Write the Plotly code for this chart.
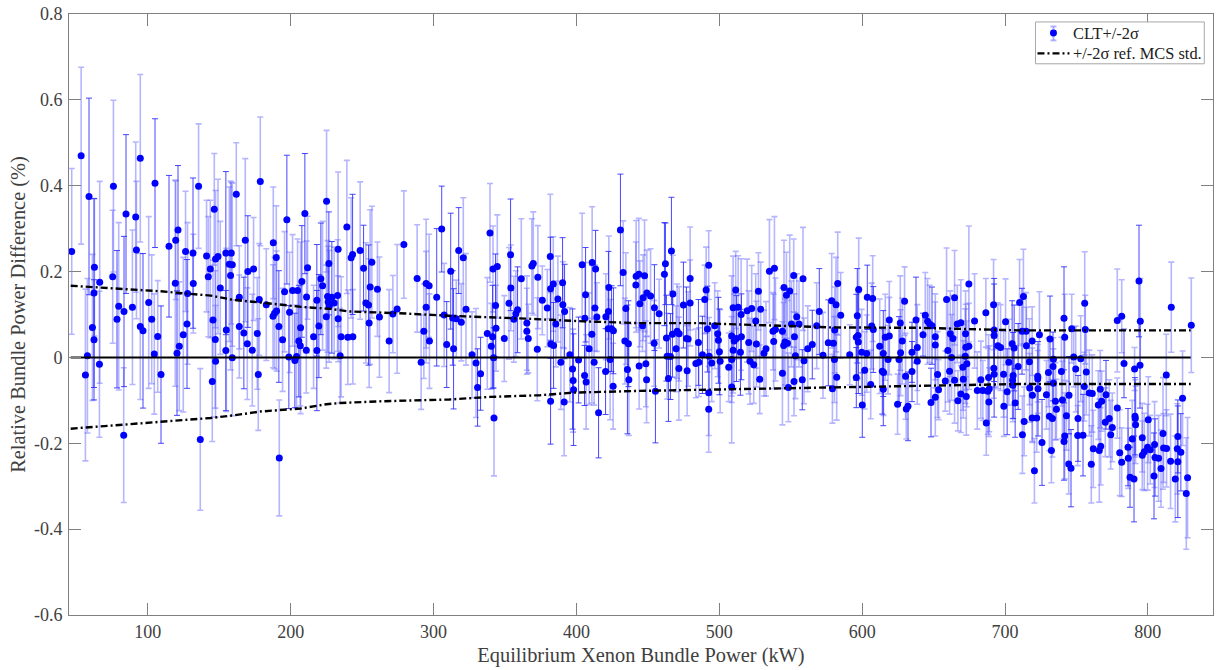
import plotly.graph_objects as go

x_power = [
46.7,53.3,58.8,56.3,57.7,61.2,62.3,62.3,62.6,66.1,
66.3,75.4,75.9,78.4,79.6,83.3,83.1,84.7,89.2,91.5,
92,94.7,94.7,96.6,100.6,102.7,105,104.5,106.9,109.2,
114.8,119.2,119.5,121.1,120.4,122,124.8,127.4,126.4,127.8,
131.6,131.8,135.5,136.7,141.1,143.7,142.3,146.5,145.6,147.2,
147.4,145.1,147.4,149.1,150.7,154.6,158.4,157,159.1,157.9,
154.9,154.6,159.1,161.9,164,164,167.2,168.2,170,174,
169.6,173.1,176.6,178,177.3,178.7,
182.9,187.8,187.6,188.7,190.1,189.9,191.7,192,194.3,195.7,
197.3,199.2,198.7,201.3,202.9,204.1,204.8,205.7,206.7,206.9,
207.8,209.9,211.1,211.8,210.9,216,218.3,218.3,219.7,221.1,
222.3,225.1,226.7,225.8,226.2,228.8,226.9,230.4,224.9,232.8,
233.2,233.2,235.3,234.6,239.3,240,243.5,242.3,243.3,248.6,
251,252.6,254.5,254.9,255.6,256.8,260.7,262.1,268.9,271.5,
274.5,279.2,288.5,291.3,293.2,294.8,296.9,294.8,297.1,302.2,
305.7,307.4,309.2,
312,313.4,315.9,314,317.6,319.4,320.8,322.7,326.9,329.7,
332.9,330.8,337.6,339.5,341.3,340.4,342,342.3,341.6,344.6,
343.4,343.7,349.5,352.8,353.9,354.1,356.2,357.6,358.8,361.4,
365.3,365.3,366.3,368.8,369.8,372.6,373,376.1,379.6,381.7,
381.9,382.1,381.9,383.8,384,385.6,387,389.1,390.3,390.5,
391.7,391.4,395.4,397.3,397.7,398,401.5,404,406.4,405.9,
405.7,406.8,408.9,410.8,411,413.4,412.9,414.3,412.4,415.5,
420.6,422.4,422.7,422.2,424.5,425.9,423.6,420.4,425.7,430.8,
432.7,434.6,433.9,436.4,435.7,436.7,441.8,443.7,441.6,444.4,
443.9,
447.7,446.7,449.3,451.9,446.3,454.6,457.9,454.4,448.6,449.1,
455.3,461.6,462.3,463,463.5,465.8,464.4,466.5,467.5,467.2,
469.8,470.5,471.9,471.7,474.9,477,478.2,477.5,479.6,479.6,
483.6,485.7,485.4,488.2,489.8,490.8,492.6,491.7,492.9,492.6,
492.6,494.7,496.8,498.9,499.4,500.1,500.6,506.6,508.7,508.7,
509.7,510.4,509.7,513.2,511.5,508.7,512,515.5,515.3,514.8,
519.5,522.7,520.6,521.5,524.1,525.5,526,527.4,529,528.3,
531.3,532.7,535.1,538.6,537.6,539.3,538.1,544.2,545.3,547,
549.3,552.1,558.6,544.2,545.1,547.7,546,548.4,554.2,550.5,
555.8,552.6,553.3,552.3,559.3,558.1,561.9,565.1,568.2,570,
572.6,576.3,
578.7,581.7,582.9,585,580.8,579.9,580.6,582.2,579.2,591.3,
595.9,597.6,596.6,595.9,597.1,597.3,599.7,603.2,601.8,600.1,
603.6,607.4,606.7,607.8,606,612.3,614.8,614.1,615,614.8,
616.2,619,619,618.1,624.8,625.8,626.7,628.1,626.9,629.7,
630.4,630.9,632.1,634.9,634.9,637.7,638.6,638.6,642.6,644.2,
645.8,647.2,648.9,648.2,651.2,651.2,651.2,652.8,653.5,658.2,
659.1,660,662.6,661.2,661.7,663.5,664.7,664.7,666.6,669.1,
669.1,667,670.8,670.5,672.9,672.4,672.6,672.2,673.3,674.7,
674.7,678.7,680.6,684.5,683.1,688.5,688,688.7,689,686.9,
686.6,692,692.4,692.4,692.2,692.4,695,696.9,699,699.2,
700.4,702.7,701.5,705,706.4,705.7,705.3,705.5,707.1,709.2,
710.2,
712.9,711.9,714.8,715,719,717.1,717.3,719.2,713.4,712.2,
719,722.2,720.6,724.1,722.9,722.9,723.1,725.9,730.4,729,
731.5,733.9,733.6,733.9,731.1,733.2,732.5,735.3,736,739.5,
740.2,741.3,741.8,743,741.8,741.3,744.8,744.6,746.2,746.7,
748.1,749.5,751.1,750.9,754.6,753,755.8,756.2,756.9,755.5,
759,761.1,761.8,760.4,766.7,767.7,765.3,766,767,770.7,
770.2,773,775.1,774,778.6,781.7,783.3,778.6,780.3,781.7,
786.1,786.3,787.5,790.3,789.1,790.7,794.5,793.8,794.7,791,
791.2,791.4,796.1,796.1,797.5,800.3,799.8,801.7,804.7,805,
807.5,804.3,809.2,810.6,811,813.1,812.9,816.4,815.9,819.2,
820.6,821,821,823.1,824.3,827.8,826.9,830.4,
]

y_diff = [
.247,.470,.375,-.041,.004,.07,.041,.150,.21,-.016,
.175,.188,.399,.089,.119,.107,-.181,.334,.117,.327,
.250,.464,.072,.062,.128,.089,.406,.008,.049,-.04,
.259,.173,.273,.297,.01,.026,.053,.078,.247,.149,
.243,.172,.399,-.191,.236,.206,.188,.345,.087,.042,
-.009,-.056,.229,.235,.162,.243,.243,.217,.216,.191,
.064,.016,-.001,.380,.140,.072,.057,.273,.2,.206,
.032,.017,.056,.135,-.04,.41,
.123,.267,.096,.103,.108,.233,.072,-.234,.041,.153,
.321,.105,.001,.156,-.007,.002,.156,.038,.027,.069,
.177,.335,.141,.209,.017,.048,.133,.016,.073,.183,
.167,.364,.219,.142,.129,.14,.119,.127,.095,.144,
.252,.09,.048,.004,.304,.047,.048,.232,.24,.249,
.208,.127,.122,.08,.164,.222,.159,.094,.038,.101,
.113,.263,.184,-.011,.061,.172,.167,.117,.038,.14,
.299,.099,.03,
.201,.092,.09,.02,.249,.082,.232,.112,.006,-.013,
-.038,-.07,.056,.29,.048,.026,-.001,-.141,.206,.212,
.121,.068,.044,.126,.239,.162,.089,.102,.111,.183,
.08,.061,.044,.213,.219,.019,.187,.133,.115,.235,
.16,.031,-.102,.171,.028,.078,.136,-.011,.174,.123,
.107,-.104,.006,-.027,-.054,-.075,-.006,.216,.146,.091,
-.042,-.057,.02,.054,.221,.206,.115,.094,-.011,-.129,
.095,.107,.163,.067,.067,.062,-.005,-.033,-.067,.297,
.198,.114,.038,.032,-.028,-.052,.189,.194,.169,.125,
-.02,
.19,.139,.15,.143,.074,.116,.102,.033,-.015,-.052,
-.079,.194,.218,.045,.003,.002,-.049,.248,.148,.054,
.02,.061,.055,-.026,.122,.044,.043,-.031,.184,.127,
-.014,-.011,.035,.006,.135,.157,.215,.066,.003,-.082,
-.121,-.013,.074,.055,.04,.013,-.009,-.023,-.005,.05,
.017,.038,.116,.117,.157,-.069,.044,.048,.1,.012,
.109,.114,.035,-.009,-.017,.085,.031,.154,.112,-.051,
.01,.02,.201,.208,.061,.065,.037,.061,.163,.145,
.155,.191,.183,-.037,.028,.033,.036,-.07,.095,.078,
.078,.048,.004,-.056,-.008,-.052,.02,.03,.074,.107,
.005,.034,
.132,.123,.172,.098,.064,.033,-.005,-.046,-.073,.006,
-.047,.158,.097,.047,.051,.036,.012,.009,-.03,-.111,
.14,.137,.073,.065,-.063,.026,.009,-.032,-.035,-.074,
.047,.05,.087,-.005,-.109,-.005,.08,.038,.011,.131,
-.044,-.12,-.114,.012,-.033,.087,.023,-.009,.053,.098,
.084,.078,.074,-.105,-.093,.048,.029,-.04,-.075,-.055,
.135,.016,0,-.032,.055,.044,.139,-.053,.078,.081,
-.085,-.101,-.051,-.023,-.091,.055,.024,.003,-.015,.026,
.171,.085,-.077,-.077,-.052,-.047,-.079,-.104,-.073,-.153,
.104,.123,.064,.051,-.025,-.039,.027,.023,-.039,-.114,
.083,-.011,-.08,.032,.022,-.042,-.053,-.065,-.106,-.021,
.128,
.142,.061,.061,.027,.038,-.01,-.071,-.088,-.149,-.18,
-.141,-.141,-.264,.053,-.044,-.05,-.073,-.198,-.035,-.087,
.043,-.004,-.021,-.06,-.137,-.142,-.217,-.102,-.121,-.033,
-.099,.091,.047,-.136,-.183,-.196,-.088,-.248,-.258,.067,
.001,-.027,-.142,-.182,-.181,-.003,.126,.065,-.034,-.068,
-.083,-.084,-.213,-.249,-.074,-.102,-.111,-.217,-.207,-.087,
-.151,-.142,-.163,-.18,.086,.096,-.014,-.118,-.222,-.244,
-.209,-.235,-.279,-.283,-.19,-.027,-.018,.178,.084,-.137,
-.142,-.157,-.187,-.228,-.22,-.145,-.209,-.215,-.203,-.233,
-.235,-.276,-.259,-.177,-.211,-.212,-.041,.117,-.242,-.283,
-.213,-.184,-.243,-.221,-.095,-.28,-.317,.075,
]

err_2sigma = [
.193,.206,.229,.2,.18,.17,.14,.22,.16,.17,
.235,.155,.2,.16,.195,.175,.157,.185,.18,.175,
.16,.195,.17,.18,.2,.15,.15,.14,.13,.16,
.165,.24,.138,.15,.145,.15,.18,.15,.14,.165,
.175,.115,.145,.165,.13,.16,.14,.13,.14,.16,
.13,.14,.16,.18,.155,.19,.165,.18,.19,.22,
.19,.14,.135,.12,.12,.12,.13,.19,.13,.12,
.13,.13,.13,.13,.13,.15,
.13,.13,.12,.13,.14,.12,.13,.135,.12,.14,
.15,.14,.12,.13,.11,.12,.12,.13,.14,.2,
.13,.14,.13,.12,.1,.12,.13,.14,.12,.13,
.15,.165,.12,.13,.13,.13,.13,.13,.12,.13,
.18,.1,.14,.11,.155,.11,.11,.14,.14,.16,
.1,.14,.14,.15,.18,.13,.11,.14,.12,.09,
.15,.125,.125,.11,.11,.15,.12,.13,.11,.16,
.1,.12,.1,
.135,.11,.09,.14,.1,.09,.14,.13,.1,.127,
.085,.09,.13,.115,.12,.1,.07,.135,.1,.12,
.12,.1,.1,.13,.13,.1,.1,.1,.1,.14,
.11,.1,.08,.11,.12,.12,.12,.08,.09,.145,
.12,.12,.1,.11,.1,.1,.1,.11,.105,.1,
.11,.125,.11,.14,.12,.13,.1,.12,.11,.13,
.07,.11,.13,.16,.13,.09,.1,.08,.1,.105,
.1,.14,.12,.1,.1,.1,.14,.1,.1,.13,
.12,.13,.1,.1,.15,.13,.13,.13,.1,.1,
.1,
.13,.1,.1,.11,.06,.1,.08,.1,.1,.1,
.12,.12,.095,.1,.1,.1,.1,.125,.09,.1,
.1,.11,.11,.12,.1,.12,.11,.105,.12,.1,
.08,.08,.1,.09,.08,.1,.08,.1,.09,.1,
.1,.09,.1,.1,.1,.1,.12,.08,.1,.14,
.1,.11,.12,.12,.09,.13,.1,.1,.13,.1,
.12,.1,.12,.1,.09,.11,.1,.09,.11,.08,
.1,.11,.12,.12,.09,.12,.11,.1,.11,.1,
.13,.085,.12,.12,.1,.1,.1,.08,.1,.1,
.1,.1,.1,.08,.1,.07,.1,.08,.1,.1,
.1,.1,
.11,.11,.12,.1,.1,.1,.1,.1,.08,.07,
.07,.12,.11,.1,.1,.12,.1,.09,.09,.075,
.075,.1,.1,.1,.08,.11,.1,.1,.1,.085,
.1,.09,.09,.08,.07,.1,.11,.1,.1,.08,
.1,.07,.08,.07,.07,.1,.1,.1,.05,.1,
.1,.09,.09,.08,.09,.1,.1,.1,.07,.07,
.12,.12,.1,.1,.1,.1,.11,.1,.09,.1,
.09,.07,.09,.1,.09,.1,.1,.11,.1,.1,
.135,.11,.09,.07,.09,.1,.1,.08,.1,.075,
.08,.105,.12,.12,.07,.1,.1,.1,.1,.07,
.1,.1,.1,.1,.1,.1,.09,.085,.08,.1,
.1,
.11,.1,.09,.09,.08,.1,.08,.11,.08,.09,
.055,.08,.075,.1,.06,.08,.11,.1,.08,.08,
.1,.05,.08,.08,.08,.09,.075,.09,.07,.08,
.09,.12,.1,.08,.1,.09,.09,.07,.09,.08,
.07,.1,.1,.07,.095,.1,.12,.08,.1,.08,
.1,.09,.09,.09,.09,.07,.08,.12,.09,.08,
.08,.09,.08,.08,.12,.085,.08,.07,.1,.08,
.09,.07,.07,.1,.09,.05,.1,.13,.1,.09,
.09,.09,.08,.08,.09,.1,.1,.08,.1,.09,
.1,.1,.09,.13,.08,.09,.095,.105,.11,.1,
.105,.085,.13,.09,.11,.14,.13,.11,
]

upper_x = [46, 62, 109, 144, 160, 178.7, 206.7, 227.6, 241, 276, 311, 367, 405, 444, 484, 531, 577, 640, 710, 830]
upper_y = [.167, .164, .154, .144, .134, .128, .118, .113, .107, .103, .097, .09, .084, .08, .08, .075, .07, .069, .063, .063]
lower_x = [46, 62, 83, 109, 144, 160, 178.7, 207, 225, 235, 265, 311, 339.5, 374.5, 397.7, 444, 493, 531, 577, 640, 710, 830]
lower_y = [-.166, -.162, -.158, -.15, -.141, -.135, -.126, -.119, -.109, -.106, -.102, -.098, -.092, -.088, -.082, -.078, -.075, -.072, -.069, -.065, -.062, -.062]
zero_x = [46, 830]
zero_y = [0, 0]

x_ticks = [100, 200, 300, 400, 500, 600, 700, 800]
y_ticks = [-0.6, -0.4, -0.2, 0, 0.2, 0.4, 0.6, 0.8]
y_tick_labels = ["-0.6", "-0.4", "-0.2", "0", "0.2", "0.4", "0.6", "0.8"]

FONT = "Liberation Serif"
TEXT = "#404040"
BOX = "#808080"
XR = [44.8, 845.6]
L, R, T, B = 68.5, 4.3, 11.5, 55
PW, PH = 1218 - L - R, 670 - T - B


def px(v):
    return L + (v - XR[0]) / (XR[1] - XR[0]) * PW


def xp(p):
    return (p - L) / PW


def yp(p):
    return (670 - B - p) / PH


# The reference's resampling leaves some whiskers crisp and dark, others blurred and pale:
# that depends only on where a whisker falls within a pixel.
sharp = [abs((px(v) % 1) - 0.5) < 0.14 for v in x_power]


def pick(vals, flag):
    return [v for v, s in zip(vals, sharp) if s == flag]


fig = go.Figure()
for flag, col, th in [(False, "rgba(80,80,255,0.42)", 1.6), (True, "rgba(40,40,255,0.85)", 1)]:
    fig.add_trace(go.Scatter(
        x=pick(x_power, flag), y=pick(y_diff, flag), mode="markers", showlegend=False,
        marker=dict(size=1, opacity=0),
        error_y=dict(type="data", array=pick(err_2sigma, flag), visible=True, color=col, thickness=th, width=3),
    ))
fig.add_trace(go.Scatter(x=x_power, y=y_diff, mode="markers", name="CLT+/-2σ", showlegend=False,
                         marker=dict(color="#0000ff", size=7)))
fig.add_trace(go.Scatter(x=zero_x, y=zero_y, mode="lines", showlegend=False,
                         line=dict(color="black", width=2)))
DASH = "7px,3px,2px,3px"
fig.add_trace(go.Scatter(x=upper_x, y=upper_y, mode="lines", name="+/-2σ ref. MCS std.", showlegend=False,
                         line=dict(color="black", width=2.4, dash=DASH)))
fig.add_trace(go.Scatter(x=lower_x, y=lower_y, mode="lines", showlegend=False,
                         line=dict(color="black", width=2.4, dash=DASH)))

axis_common = dict(showgrid=False, zeroline=False, showline=True, linecolor=BOX, linewidth=1,
                   mirror="allticks", ticks="inside", ticklen=12, tickcolor=BOX, tickwidth=1,
                   tickfont=dict(family=FONT, size=18, color=TEXT))


def pshape(kind, x0, y0, x1, y1, **kw):
    return dict(type=kind, xref="paper", yref="paper", x0=xp(x0), x1=xp(x1), y0=yp(y0), y1=yp(y1), **kw)


pale = dict(color="rgba(95,95,255,0.45)", width=2)
shapes = [
    pshape("rect", 1036, 19.5, 1205, 61.5, line=dict(color="#a8a8a8", width=1), fillcolor="white"),
    pshape("line", 1054, 24, 1054, 38, line=pale),
    pshape("line", 1051, 24, 1057, 24, line=pale),
    pshape("line", 1051, 38, 1057, 38, line=pale),
    pshape("circle", 1050.5, 27, 1057.5, 34, line=dict(width=0), fillcolor="#0000ff"),
    pshape("line", 1038, 51, 1070, 51, line=dict(color="black", width=2.4, dash=DASH)),
]
annotations = [
    dict(text=t, xref="paper", yref="paper", x=xp(1071.5), y=yp(py), xanchor="left", yanchor="middle",
         showarrow=False, font=dict(family=FONT, size=16.4, color="#202020"))
    for t, py in [("CLT+/-2σ", 31), ("+/-2σ ref. MCS std.", 51.5)]
]

fig.update_layout(
    width=1218, height=670, plot_bgcolor="white", paper_bgcolor="white",
    margin=dict(l=L, r=R, t=T, b=B),
    font=dict(family=FONT, color=TEXT), showlegend=False,
    shapes=shapes, annotations=annotations,
    xaxis=dict(range=XR, tickmode="array", tickvals=x_ticks,
               title=dict(text="Equilibrium Xenon Bundle Power (kW)", font=dict(family=FONT, size=20.4, color=TEXT), standoff=7),
               **axis_common),
    yaxis=dict(range=[-0.6, 0.8], tickmode="array", tickvals=y_ticks, ticktext=y_tick_labels, ticklabelstandoff=2,
               title=dict(text="Relative Bundle Power Difference (%)", font=dict(family=FONT, size=20.4, color=TEXT), standoff=2),
               **axis_common),
)
fig.write_html("out.html", config=dict(displayModeBar=False),
               post_script="document.body.style.margin='0';")
